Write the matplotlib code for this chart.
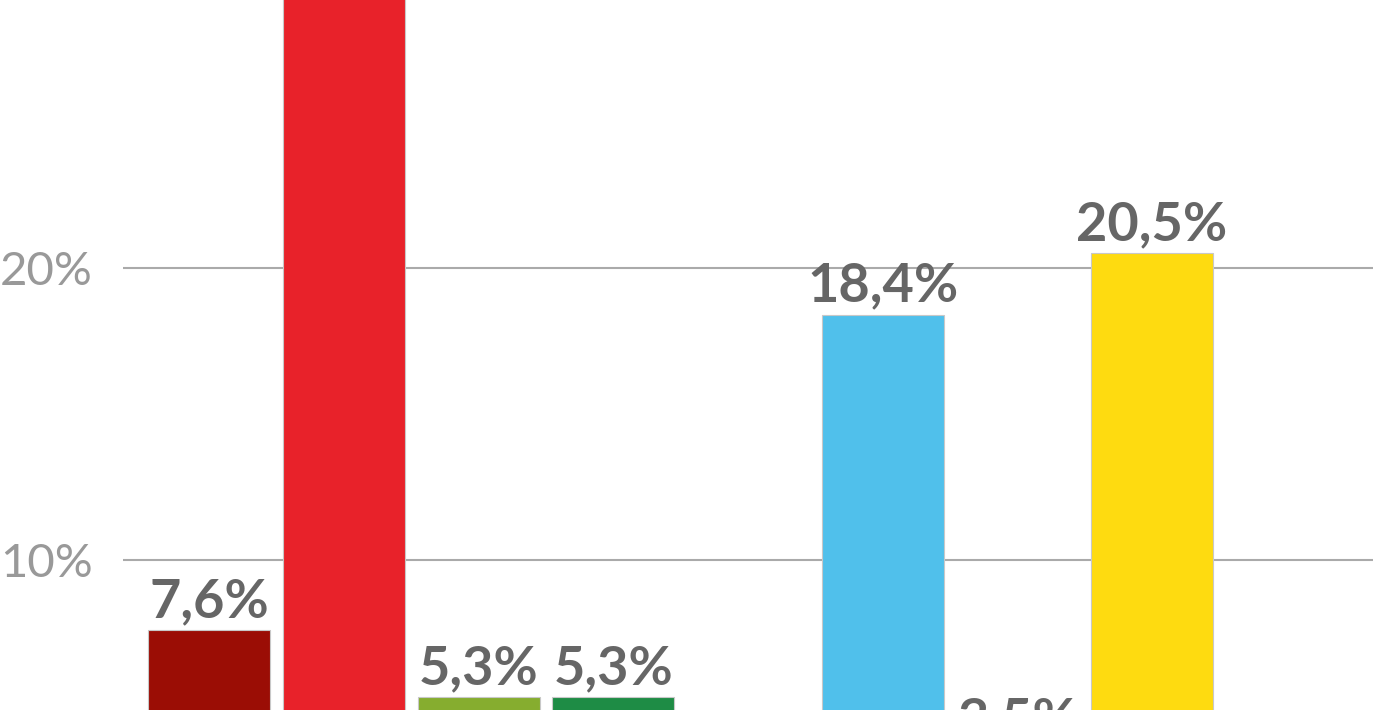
import matplotlib.pyplot as plt
import matplotlib.ticker as ticker

# slot index of each bar (slot 4 is the gap between the two groups)
positions = [0, 1, 2, 3, 5, 6, 7]
values = [7.6, 33.0, 5.3, 5.3, 18.4, 3.5, 20.5]
labels = ["7,6%", "33,0%", "5,3%", "5,3%", "18,4%", "3,5%", "20,5%"]
colors = ["#9b0d05", "#e8222a", "#86ad2f", "#1e8c45", "#50c0eb", "#9e9e9e", "#fedb10"]
yticks = [10, 20]
ytick_labels = ["10%", "20%"]

fig = plt.figure(figsize=(13.8, 7.1), dpi=100)
fig.patch.set_facecolor("white")
ax = fig.add_axes([123 / 1380, 0, 1250 / 1380, 1])

ax.bar(positions, values, width=0.905, color=colors,
       edgecolor="#c8c8c8", linewidth=0.8, zorder=3)

for x, v, t in zip(positions, values, labels):
    ax.annotate(t, xy=(x, v), xytext=(0, 9.5), textcoords="offset points",
                ha="center", va="baseline", fontsize=39, fontweight="bold",
                family=["Lato", "DejaVu Sans"], color="#666666", zorder=4,
                annotation_clip=False)

ax.set_xlim(-0.64, 8.64)
ax.set_ylim(4.86, 29.18)
ax.set_yticks(yticks)
ax.yaxis.set_major_formatter(ticker.FixedFormatter(ytick_labels))
ax.set_xticks([])
ax.tick_params(axis="y", length=0, pad=22, labelsize=34, labelcolor="#999999")
for lab in ax.get_yticklabels():
    lab.set_family(["Lato", "DejaVu Sans"])

ax.grid(axis="y", color="#aaaaaa", linewidth=1.5, zorder=0)
for s in ax.spines.values():
    s.set_visible(False)

fig.savefig("out.png", dpi=100)
